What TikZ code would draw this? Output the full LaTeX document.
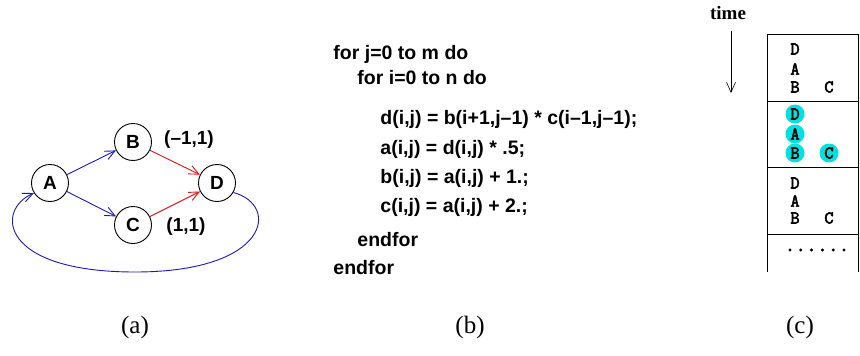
\documentclass[tikz,border=0pt]{standalone}
\usepackage{fontspec}
\setmainfont{Liberation Serif}
\setsansfont{Liberation Sans}
\newfontfamily\opfont[FakeBold=3]{Latin Modern Mono}
\usetikzlibrary{arrows.meta}
\definecolor{depblue}{RGB}{25,25,190}
\definecolor{depred}{RGB}{225,20,20}
\definecolor{hitcyan}{RGB}{0,225,225}

\begin{document}
\begin{tikzpicture}[x=1pt,y=-1pt,line width=0.9pt,>={Straight Barb[length=10pt,width=9pt]},
  vertex/.style={draw, circle, minimum size=37pt, inner sep=0pt, font=\sffamily\bfseries\fontsize{19}{19}\selectfont},
  dist/.style={font=\sffamily\bfseries\fontsize{19}{19}\selectfont},
  codeline/.style={anchor=base west, inner sep=0pt, font=\sffamily\bfseries\fontsize{19.5}{19.5}\selectfont},
  op/.style={inner sep=0pt, font=\opfont\fontsize{18}{18}\selectfont},
  hit/.style={circle, fill=hitcyan, minimum size=19pt, inner sep=0pt},
  caption/.style={font=\fontsize{25}{25}\selectfont}]
\useasboundingbox (0,0) rectangle (860,356);

% (a) dependence graph
\node (A) [vertex] at (50,183) {A};
\node (B) [vertex] at (133,142) {B};
\node (C) [vertex] at (133,225) {C};
\node (D) [vertex] at (217,183) {D};
\node (lb) [dist] at (189,140) {(--1,1)};
\node (lc) [dist] at (186,227) {(1,1)};
\draw[->, depblue] (A)--(B);
\draw[->, depblue] (A)--(C);
\draw[->, depred] (B)--(D);
\draw[->, depred] (C)--(D);
\draw[->, depblue] (D.-30) .. controls (280,205) and (270,272) .. (135,272)
  .. controls (0,272) and (-5,210) .. (A.-148);

% (b) loop nest
\node (l1) [codeline] at (333,59) {for j=0 to m do};
\node (l2) [codeline] at (357,84) {for i=0 to n do};
\node (l3) [codeline] at (380,124) {d(i,j) = b(i+1,j--1) * c(i--1,j--1);};
\node (l4) [codeline] at (380,154) {a(i,j) = d(i,j) * .5;};
\node (l5) [codeline] at (380,183) {b(i,j) = a(i,j) + 1.;};
\node (l6) [codeline] at (380,212) {c(i,j) = a(i,j) + 2.;};
\node (l7) [codeline] at (357,246) {endfor};
\node (l8) [codeline] at (333,274) {endfor};

% (c) schedule
\node (time) [font=\bfseries\fontsize{19}{19}\selectfont] at (728,13) {time};
\coordinate (t0) at (731,31);
\coordinate (t1) at (731,93);
\draw[->, line width=0.6pt] (t0)--(t1);
\draw (767,272) -- (767,34) -- (858,34) -- (858,272);
\draw (767,101) -- (858,101);
\draw (767,167) -- (858,167);
\draw (767,234) -- (858,234);
\node (d1) [op] at (795,49) {D};
\node (a1) [op] at (795,69) {A};
\node (b1) [op] at (795,87) {B};
\node (c1) [op] at (829,87) {C};
\node [hit] at (795,114) {};
\node [hit] at (795,134) {};
\node [hit] at (795,153) {};
\node [hit] at (829,153) {};
\node (d2) [op] at (795,114) {D};
\node (a2) [op] at (795,134) {A};
\node (b2) [op] at (795,153) {B};
\node (c2) [op] at (829,153) {C};
\node (d3) [op] at (795,183) {D};
\node (a3) [op] at (795,201) {A};
\node (b3) [op] at (795,218) {B};
\node (c3) [op] at (829,218) {C};
\node (more) [op, font=\opfont\fontsize{21}{21}\selectfont] at (817,250) {......};

% captions
\node (capa) [caption] at (135,327) {(a)};
\node (capb) [caption] at (470,327) {(b)};
\node (capc) [caption] at (800,327) {(c)};
\end{tikzpicture}
\end{document}
